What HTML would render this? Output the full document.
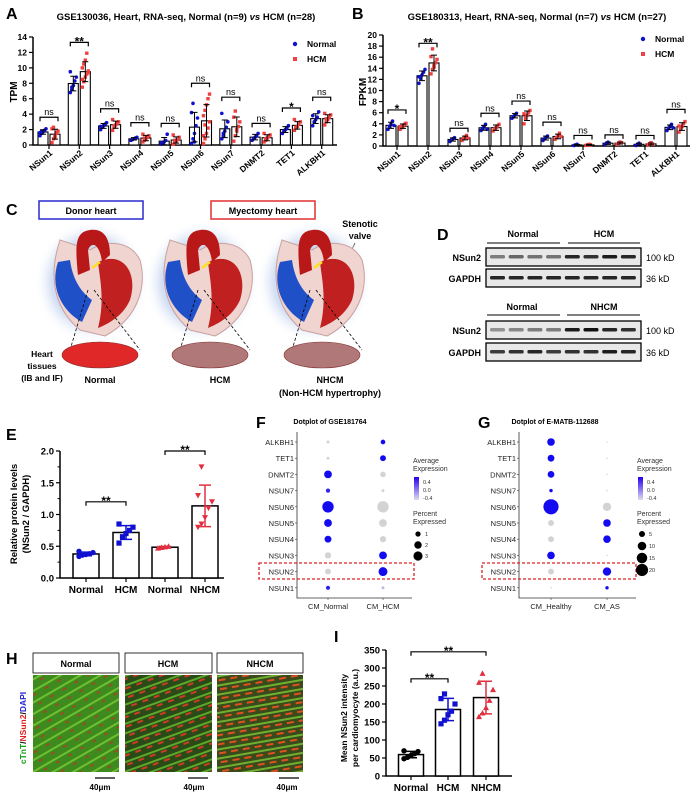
<!DOCTYPE html>
<html><head><meta charset="utf-8"><style>
html,body{margin:0;padding:0;background:#fff;}
svg{display:block;font-family:"Liberation Sans",Arial,sans-serif;}
.b{font-weight:bold;}
</style></head><body>
<svg id="fig" width="696" height="800" viewBox="0 0 696 800" xmlns="http://www.w3.org/2000/svg">
<defs>
<radialGradient id="glow" cx="50%" cy="50%" r="50%"><stop offset="0" stop-color="#a8c0e8"/><stop offset="0.7" stop-color="#d4e0f4"/><stop offset="1" stop-color="#fff" stop-opacity="0"/></radialGradient>
<linearGradient id="expgrad" x1="0" y1="0" x2="0" y2="1"><stop offset="0" stop-color="#2200ee"/><stop offset="1" stop-color="#e0dcee"/></linearGradient>
<pattern id="musN" width="14" height="10" patternUnits="userSpaceOnUse" patternTransform="rotate(-30)"><rect width="14" height="10" fill="#3f8a1e"/><rect y="4" width="14" height="2" fill="#6dc030"/><rect x="3" y="8" width="4" height="1.5" fill="#b04020"/></pattern>
<pattern id="musH" width="12" height="9" patternUnits="userSpaceOnUse" patternTransform="rotate(-20)"><rect width="12" height="9" fill="#2a4a18"/><rect y="2" width="12" height="2" fill="#5da828"/><rect x="2" y="5" width="6" height="2" fill="#d03a20"/></pattern>
<pattern id="musX" width="12" height="9" patternUnits="userSpaceOnUse" patternTransform="rotate(-10)"><rect width="12" height="9" fill="#3a4a1a"/><rect y="1" width="12" height="2" fill="#70b030"/><rect x="1" y="5" width="7" height="2" fill="#e05020"/></pattern>
</defs>

<text x="6" y="19" font-size="16" class="b">A</text>
<text x="352" y="19" font-size="16" class="b">B</text>
<text x="6" y="215" font-size="16" class="b">C</text>
<text x="437" y="240" font-size="16" class="b">D</text>
<text x="6" y="440" font-size="16" class="b">E</text>
<text x="256" y="428" font-size="16" class="b">F</text>
<text x="478" y="428" font-size="16" class="b">G</text>
<text x="6" y="664" font-size="16" class="b">H</text>
<text x="334" y="642" font-size="16" class="b">I</text>

<text x="186" y="20" font-size="9.5" class="b" text-anchor="middle">GSE130036, Heart, RNA-seq, Normal (n=9) <tspan font-style="italic">vs</tspan> HCM (n=28)</text>
<text x="537" y="20" font-size="9.5" class="b" text-anchor="middle">GSE180313, Heart, RNA-seq, Normal (n=7) <tspan font-style="italic">vs</tspan> HCM (n=27)</text>
<text transform="translate(17,92) rotate(-90)" font-size="10" class="b" text-anchor="middle">TPM</text>
<text transform="translate(366,92) rotate(-90)" font-size="10" class="b" text-anchor="middle">FPKM</text>

<g id="chartA"></g>
<g id="chartB"></g>

<g>
<circle cx="295" cy="44" r="2.2" fill="#1010d0"/><text x="307" y="47" font-size="8.5" class="b">Normal</text>
<rect x="293" y="57" width="4" height="4" fill="#f04040"/><text x="307" y="62" font-size="8.5" class="b">HCM</text>
</g>
<g>
<circle cx="643" cy="39" r="2.2" fill="#1010d0"/><text x="655" y="42" font-size="8.5" class="b">Normal</text>
<rect x="641" y="52" width="4" height="4" fill="#f04040"/><text x="655" y="57" font-size="8.5" class="b">HCM</text>
</g>

<g>
<rect x="39" y="201" width="104" height="18" fill="#fff" stroke="#2a2ad0" stroke-width="1.5"/>
<text x="91" y="214" font-size="9" class="b" text-anchor="middle">Donor heart</text>
<rect x="211" y="201" width="104" height="18" fill="#fff" stroke="#e03030" stroke-width="1.5"/>
<text x="263" y="214" font-size="9" class="b" text-anchor="middle">Myectomy heart</text>
<text x="360" y="227" font-size="9" class="b" text-anchor="middle">Stenotic</text>
<text x="360" y="239" font-size="9" class="b" text-anchor="middle">valve</text>
<line x1="355" y1="243" x2="330" y2="295" stroke="#000" stroke-width="0.8"/>
<g id="hearts"></g>
<text x="42" y="357" font-size="8.5" class="b" text-anchor="middle">Heart</text>
<text x="42" y="369" font-size="8.5" class="b" text-anchor="middle">tissues</text>
<text x="42" y="381" font-size="8.5" class="b" text-anchor="middle">(IB and IF)</text>
<text x="100" y="383" font-size="9" class="b" text-anchor="middle">Normal</text>
<text x="220" y="383" font-size="9" class="b" text-anchor="middle">HCM</text>
<text x="330" y="383" font-size="9" class="b" text-anchor="middle">NHCM</text>
<text x="330" y="396" font-size="9" class="b" text-anchor="middle">(Non-HCM hypertrophy)</text>
</g>

<g>
<text x="523" y="237" font-size="9" class="b" text-anchor="middle">Normal</text>
<text x="604" y="237" font-size="9" class="b" text-anchor="middle">HCM</text>
<line x1="487" y1="243" x2="560" y2="243" stroke="#000" stroke-width="1"/>
<line x1="568" y1="243" x2="640" y2="243" stroke="#000" stroke-width="1"/>
<g id="blots"></g>
<text x="522" y="310" font-size="9" class="b" text-anchor="middle">Normal</text>
<text x="604" y="310" font-size="9" class="b" text-anchor="middle">NHCM</text>
<line x1="487" y1="315" x2="560" y2="315" stroke="#000" stroke-width="1"/>
<line x1="567" y1="315" x2="640" y2="315" stroke="#000" stroke-width="1"/>
</g>

<text transform="translate(17,514) rotate(-90)" font-size="9.5" class="b" text-anchor="middle">Relative protein levels</text>
<text transform="translate(29,514) rotate(-90)" font-size="9.5" class="b" text-anchor="middle">(NSun2 / GAPDH)</text>
<g id="chartE"></g>

<text x="330" y="424" font-size="7" class="b" text-anchor="middle">Dotplot of GSE181764</text>
<text x="555" y="424" font-size="7" class="b" text-anchor="middle">Dotplot of E-MATB-112688</text>
<g id="chartF"></g>
<g id="chartG"></g>

<g>
<text transform="translate(26,728) rotate(-90)" font-size="8.5" class="b" text-anchor="middle"><tspan fill="#10a010">cTnT</tspan>/<tspan fill="#e02020">NSun2</tspan>/<tspan fill="#2020d0">DAPI</tspan></text>
<rect x="33" y="653" width="86" height="20" fill="#fff" stroke="#000" stroke-width="0.8"/><text x="76" y="667" font-size="9" class="b" text-anchor="middle">Normal</text>
<rect x="125" y="653" width="87" height="20" fill="#fff" stroke="#000" stroke-width="0.8"/><text x="168" y="667" font-size="9" class="b" text-anchor="middle">HCM</text>
<rect x="217" y="653" width="86" height="20" fill="#fff" stroke="#000" stroke-width="0.8"/><text x="260" y="667" font-size="9" class="b" text-anchor="middle">NHCM</text>
<rect x="33" y="675" width="86" height="97" fill="url(#musN)"/>
<rect x="125" y="675" width="87" height="97" fill="url(#musH)"/>
<rect x="217" y="675" width="86" height="97" fill="url(#musX)"/>
<line x1="95" y1="778" x2="115" y2="778" stroke="#000" stroke-width="1.2"/><text x="100" y="790" font-size="8" class="b" text-anchor="middle">40μm</text>
<line x1="188" y1="778" x2="208" y2="778" stroke="#000" stroke-width="1.2"/><text x="194" y="790" font-size="8" class="b" text-anchor="middle">40μm</text>
<line x1="279" y1="778" x2="299" y2="778" stroke="#000" stroke-width="1.2"/><text x="287" y="790" font-size="8" class="b" text-anchor="middle">40μm</text>
</g>

<text transform="translate(347,718) rotate(-90)" font-size="8.5" class="b" text-anchor="middle">Mean NSun2 intensity</text>
<text transform="translate(358,718) rotate(-90)" font-size="8.5" class="b" text-anchor="middle">per cardiomyocyte (a.u.)</text>
<g id="chartI"></g>
</svg>

<script>
const NS="http://www.w3.org/2000/svg";
function mk(tag,attrs,parent){const e=document.createElementNS(NS,tag);for(const k in attrs)e.setAttribute(k,attrs[k]);parent.appendChild(e);return e;}

const genesA=["NSun1","NSun2","NSun3","NSun4","NSun5","NSun6","NSun7","DNMT2","TET1","ALKBH1"];
const aNormal=[[1.2,1.5,1.7,1.9,2.1,1.6,1.8],[6.8,7.2,7.7,8.3,8.8,9.5,7.5],[2.0,2.3,2.5,2.7,2.9,2.4],[0.6,0.7,0.8,0.9,1.0],[0.1,0.3,0.4,0.6,1.4,0.2],[0.2,0.8,1.5,2.5,3.5,4.2,5.4,0.4],[0.8,1.2,1.8,2.3,3.0,4.1,1.5],[0.6,0.8,1.0,1.2,1.5],[1.5,1.8,2.0,2.2,2.5],[2.5,3.0,3.3,3.6,4.3,3.8]];
const aHCM=[[0.3,0.8,1.2,1.5,1.8,2.1,2.3,1.0,1.6],[7.5,8.2,8.8,9.2,9.6,10.0,10.5,11.0,11.9,9.4,8.5],[1.9,2.3,2.6,2.8,3.0,3.3,2.5],[0.4,0.6,0.8,1.0,1.2,1.4,0.9],[0.1,0.3,0.5,0.7,1.0,1.3,0.6],[0.2,0.8,1.5,2.2,3.0,3.8,4.5,5.2,6.0,6.6,1.2,2.6],[0.5,1.2,1.8,2.4,3.0,3.6,4.4,2.0],[0.4,0.6,0.9,1.1,1.3,1.5,0.8],[1.9,2.2,2.4,2.7,3.0,3.3,2.3],[2.6,3.0,3.3,3.6,3.9,4.1,3.4]];
const aSig=["ns","**","ns","ns","ns","ns","ns","ns","*","ns"];
const aBracket=[3.6,13.3,4.7,2.9,2.8,8.0,6.2,2.8,4.8,6.2];
const aTicks=[0,2,4,6,8,10,12,14];
const genesB=["NSun1","NSun2","NSun3","NSun4","NSun5","NSun6","NSun7","DNMT2","TET1","ALKBH1"];
const bNormal=[[3.0,3.5,3.9,4.5,3.7],[11.3,12.2,12.8,13.3,13.8,12.5],[0.8,1.1,1.3,1.5],[2.8,3.2,3.5,3.9,3.0],[5.0,5.3,5.6,5.9],[1.0,1.3,1.6,1.8],[0.1,0.2,0.3],[0.3,0.5,0.7],[0.1,0.3,0.5],[2.8,3.2,3.6,3.9,3.3]];
const bHCM=[[3.0,3.3,3.6,3.9,4.1,3.5],[13.0,13.8,14.5,15.0,15.6,16.1,17.5,14.2],[1.0,1.3,1.6,1.9,1.4],[2.7,3.0,3.3,3.6,3.9],[4.0,5.0,5.5,6.0,6.4,5.8],[1.2,1.5,1.9,2.3,1.7],[0.1,0.2,0.3,0.2],[0.3,0.5,0.7,0.6],[0.2,0.4,0.6,0.3],[2.5,3.0,3.5,4.0,4.4,3.6]];
const bSig=["*","**","ns","ns","ns","ns","ns","ns","ns","ns"];
const bBracket=[6.5,18.5,3.2,5.9,8.1,4.3,1.9,2.0,1.9,6.6];
const bTicks=[0,2,4,6,8,10,12,14,16,18,20];
const eCats=["Normal","HCM","Normal","NHCM"];
const ePoints=[[0.34,0.36,0.37,0.38,0.40,0.42],[0.55,0.65,0.70,0.75,0.80,0.85],[0.47,0.48,0.49,0.50],[0.80,0.85,0.95,1.10,1.20,1.30,1.75]];
const eTicks=[0,0.5,1.0,1.5,2.0];
const iCats=["Normal","HCM","NHCM"];
const iPoints=[[48,52,57,62,68,70],[145,155,170,180,200,215,228],[165,175,190,210,240,260,285]];
const iTicks=[0,50,100,150,200,250,300,350];
const dotGenes=["ALKBH1","TET1","DNMT2","NSUN7","NSUN6","NSUN5","NSUN4","NSUN3","NSUN2","NSUN1"];
const fGroups=["CM_Normal","CM_HCM"];
const fPct1=[0.2,0.2,1.4,0.4,3.0,1.4,1.1,0.9,0.8,0.4];
const fExp1=[-0.4,-0.4,0.4,0.3,0.5,0.4,0.4,-0.4,-0.4,0.3];
const fPct2=[0.5,0.8,0.7,0.2,3.0,1.4,0.9,1.4,1.8,0.2];
const fExp2=[0.4,0.4,-0.4,-0.4,-0.4,-0.4,-0.4,0.4,0.5,-0.3];
const gGroups=["CM_Healthy","CM_AS"];
const gPct1=[5,4,4,1,20,3,3,5,3,0.2];
const gExp1=[0.4,0.4,0.4,0.4,0.5,-0.4,-0.4,0.4,-0.4,-0.4];
const gPct2=[0.2,0.2,0.2,0.2,6,5,5,0.2,6,1];
const gExp2=[-0.4,-0.4,-0.4,-0.4,-0.4,0.4,0.4,-0.4,0.5,0.4];

function mean(a){return a.reduce((s,v)=>s+v,0)/a.length;}
function sd(a){const m=mean(a);return Math.sqrt(a.reduce((s,v)=>s+(v-m)*(v-m),0)/(a.length-1));}

function bracket(g,x1,x2,y,label){
  const p=mk("path",{d:`M${x1},${y+4}V${y}H${x2}V${y+4}`,fill:"none",stroke:"#000","stroke-width":1.2},g);
  
  
  const t=mk("text",{x:(x1+x2)/2,y:label==="ns"?y-2:y+3,"font-size":label==="ns"?9:12,"text-anchor":"middle","font-weight":label==="ns"?"normal":"bold"},g);
  t.textContent=label;
  
  
}

function grouped(g,genes,norm,hcm,sig,br,ticks,o){
  const ymax=ticks[ticks.length-1];
  const Y=v=>o.y0-v*(o.y0-o.yTop)/ymax;
  const X=i=>o.cx0+i*o.dx;
  const ax=mk("path",{d:`M${o.ax},${o.yTop}V${o.y0}H${o.axEnd}`,fill:"none",stroke:"#000","stroke-width":1.5},g);
  
  
  ticks.forEach(t=>{
    mk("line",{x1:o.ax-4,x2:o.ax,y1:Y(t),y2:Y(t),stroke:"#000","stroke-width":1.2},g);
    const tl=mk("text",{x:o.ax-6,y:Y(t)+3,"font-size":8.5,"text-anchor":"end","font-weight":"bold"},g);
    tl.textContent=t;
    
    
  });
  genes.forEach((name,i)=>{
    const cx=X(i);
    mk("line",{x1:cx,x2:cx,y1:o.y0,y2:o.y0+4,stroke:"#000","stroke-width":1.2},g);
    [[norm[i],-6,"#1010d0","normal"],[hcm[i],6,"#f04040","hcm"]].forEach(([pts,off,col,key])=>{
      const m=mean(pts),s=sd(pts),bx=cx+off;
      const bar=mk("rect",{x:bx-5,y:Y(m),width:10,height:o.y0-Y(m),fill:"#fff",stroke:"#000","stroke-width":1.1},g);
      
      
      pts.forEach((v,k)=>{
        const jx=bx+((k%5)-2)*1.5;
        if(key==="normal"){const c=mk("circle",{cx:jx,cy:Y(v),r:1.8,fill:col},g);}
        else{const c=mk("rect",{x:jx-1.7,y:Y(v)-1.7,width:3.4,height:3.4,fill:col},g);}
      });
      mk("path",{d:`M${bx},${Y(Math.max(0,m-s))}V${Y(m+s)}M${bx-3},${Y(m+s)}H${bx+3}M${bx-3},${Y(Math.max(0,m-s))}H${bx+3}`,stroke:"#000","stroke-width":1,fill:"none"},g);
    });
    bracket(g,cx-9,cx+9,Y(br[i]),sig[i]);
    const xl=mk("text",{transform:`translate(${cx+4},${o.y0+9}) rotate(-40)`,"font-size":8.5,"text-anchor":"end","font-weight":"bold"},g);
    xl.textContent=name;
    
    
  });
}
grouped(document.getElementById("chartA"),genesA,aNormal,aHCM,aSig,aBracket,aTicks,{y0:145,yTop:37,ax:33,axEnd:337,cx0:49,dx:30.3});
grouped(document.getElementById("chartB"),genesB,bNormal,bHCM,bSig,bBracket,bTicks,{y0:146,yTop:35,ax:383,axEnd:690,cx0:397,dx:31});

function simple(g,cats,pts,ticks,o,colors,shapes,brs,fmt){
  const ymax=ticks[ticks.length-1];
  const Y=v=>o.y0-v*(o.y0-o.yTop)/ymax;
  const ax=mk("path",{d:`M${o.ax},${o.yTop}V${o.y0}H${o.axEnd}`,fill:"none",stroke:"#000","stroke-width":1.5},g);
  
  
  ticks.forEach(t=>{
    mk("line",{x1:o.ax-4,x2:o.ax,y1:Y(t),y2:Y(t),stroke:"#000","stroke-width":1.2},g);
    const tl=mk("text",{x:o.ax-6,y:Y(t)+3.5,"font-size":9.5,"text-anchor":"end","font-weight":"bold"},g);
    tl.textContent=fmt(t);
    
    
  });
  if(o.minor){ticks.slice(0,-1).forEach((t,k)=>{const v=(t+ticks[k+1])/2;mk("line",{x1:o.ax-2.5,x2:o.ax,y1:Y(v),y2:Y(v),stroke:"#000","stroke-width":1},g);});}
  cats.forEach((c,i)=>{
    const cx=o.cx[i],p=pts[i],m=mean(p),s=sd(p);
    const bar=mk("rect",{x:cx-o.w/2,y:Y(m),width:o.w,height:o.y0-Y(m),fill:"#fff",stroke:"#000","stroke-width":1.5},g);
    
    
    p.forEach((v,k)=>{
      const jx=cx+((k%5)-2)*3.5,col=colors[i];
      let e;
      if(shapes[i]==="c")e=mk("circle",{cx:jx,cy:Y(v),r:2.7,fill:col},g);
      else if(shapes[i]==="s")e=mk("rect",{x:jx-2.6,y:Y(v)-2.6,width:5.2,height:5.2,fill:col},g);
      else if(shapes[i]==="t")e=mk("path",{d:`M${jx},${Y(v)-3}L${jx+3},${Y(v)+2.5}L${jx-3},${Y(v)+2.5}Z`,fill:col},g);
      else e=mk("path",{d:`M${jx-3},${Y(v)-2.5}L${jx+3},${Y(v)-2.5}L${jx},${Y(v)+3}Z`,fill:col},g);
      
      
    });
    mk("path",{d:`M${cx},${Y(m-s)}V${Y(m+s)}M${cx-6},${Y(m+s)}H${cx+6}M${cx-6},${Y(m-s)}H${cx+6}`,stroke:colors[i],"stroke-width":1.5,fill:"none"},g);
    mk("line",{x1:cx,x2:cx,y1:o.y0,y2:o.y0+4,stroke:"#000","stroke-width":1.2},g);
    const xl=mk("text",{x:cx,y:o.y0+15,"font-size":10,"text-anchor":"middle","font-weight":"bold"},g);
    xl.textContent=c;
    
    
  });
  brs.forEach(b=>bracket(g,o.cx[b[0]],o.cx[b[1]],Y(b[2]),b[3]));
}
const eBrackets=[[0,1,1.2,"**"],[2,3,2.0,"**"]];
simple(document.getElementById("chartE"),eCats,ePoints,eTicks,{y0:578,yTop:451,ax:60,axEnd:224,cx:[86,126,165,205],w:26,minor:true},["#1010d0","#1010d0","#e03040","#e03040"],["c","s","t","v"],eBrackets,t=>t.toFixed(1));
const iBrackets=[[0,1,270,"**"],[0,2,345,"**"]];
simple(document.getElementById("chartI"),iCats,iPoints,iTicks,{y0:776,yTop:650,ax:386,axEnd:512,cx:[411,448,486],w:25,minor:false},["#000","#1010d0","#e03040"],["c","s","t"],iBrackets,t=>String(t));

function col(e){const t=Math.max(0,Math.min(1,(e+0.4)/0.8));const r=Math.round(211*(1-t)+20*t),gg=Math.round(211*(1-t)+10*t),b=Math.round(211*(1-t)+240*t);return `rgb(${r},${gg},${b})`;}
function dotplot(g,groups,pct1,exp1,pct2,exp2,o){
  const Y=i=>442+i*16.2;
  const ax=mk("path",{d:`M${o.ax},${432}V${598}H${o.axEnd}`,fill:"none",stroke:"#333","stroke-width":0.8},g);
  
  
  dotGenes.forEach((gn,i)=>{
    const t=mk("text",{x:o.ax-3,y:Y(i)+3,"font-size":7.5,"text-anchor":"end",fill:"#222"},g);
    t.textContent=gn;
    
    
    mk("line",{x1:o.ax-2,x2:o.ax,y1:Y(i),y2:Y(i),stroke:"#333","stroke-width":0.6},g);
    [[pct1,exp1,0],[pct2,exp2,1]].forEach(([p,e,k])=>{
      const c=mk("circle",{cx:o.cx[k],cy:Y(i),r:o.rs(p[i]),fill:col(e[i])},g);
      
      
    });
  });
  groups.forEach((gr,k)=>{
    mk("line",{x1:o.cx[k],x2:o.cx[k],y1:598,y2:600,stroke:"#333","stroke-width":0.6},g);
    const t=mk("text",{x:o.cx[k],y:609,"font-size":7.5,"text-anchor":"middle",fill:"#222"},g);
    t.textContent=gr;
    
    
  });
  const box=mk("rect",{x:o.box[0],y:563,width:o.box[1]-o.box[0],height:16,fill:"none",stroke:"#e02020","stroke-width":1.3,"stroke-dasharray":"3,2"},g);
  
  
  const lx=o.lx;
  [["Average",463],["Expression",471]].forEach(([s,y])=>{const t=mk("text",{x:lx,y:y,"font-size":7,fill:"#333"},g);t.textContent=s;});
  const gb=mk("rect",{x:lx+1,y:477,width:5,height:23,fill:"url(#expgrad)"},g);
  
  
  [["0.4",484],["0.0",492],["-0.4",500]].forEach(([s,y])=>{const t=mk("text",{x:lx+10,y:y,"font-size":5.5,fill:"#333"},g);t.textContent=s;});
  [["Percent",516],["Expressed",524]].forEach(([s,y])=>{const t=mk("text",{x:lx,y:y,"font-size":7,fill:"#333"},g);t.textContent=s;});
  o.legVals.forEach((v,k)=>{
    const yy=534+k*o.legStep;
    const c=mk("circle",{cx:lx+5,cy:yy,r:o.rs(v)*0.8,fill:"#000"},g);
    
    
    const t=mk("text",{x:lx+12,y:yy+2,"font-size":5.5,fill:"#333"},g);t.textContent=v;
  });
}
const fLegend=[1,2,3];
const gLegend=[5,10,15,20];
dotplot(document.getElementById("chartF"),fGroups,fPct1,fExp1,fPct2,fExp2,{ax:297,axEnd:412,cx:[328,383],box:[259,414],lx:413,rs:p=>Math.max(0.6,Math.sqrt(p)*3.3),legVals:fLegend,legStep:11});
dotplot(document.getElementById("chartG"),gGroups,gPct1,gExp1,gPct2,gExp2,{ax:519,axEnd:636,cx:[551,607],box:[482,636],lx:637,rs:p=>Math.max(0.6,Math.sqrt(p)*1.7),legVals:gLegend,legStep:12});

const hg=document.getElementById("hearts");
const heartX=[100,210,322];
const tissueCol=["#e02828","#b07878","#b07878"];
heartX.forEach((cx,i)=>{
  const g=mk("g",{},hg);
  
  
  mk("ellipse",{cx:cx-8,cy:282,rx:58,ry:62,fill:"url(#glow)"},g);
  mk("path",{d:`M${cx-40},${240}C${cx-50},${270} ${cx-50},${305} ${cx-20},${330}L${cx+5},${336}C${cx+35},${320} ${cx+48},${290} ${cx+40},${260}C${cx+30},${240} ${cx+5},${240} ${cx-10},${250}Z`,fill:"#f0d4d0",stroke:"#c8a0a0","stroke-width":1},g);
  mk("path",{d:`M${cx-42},${262}C${cx-50},${285} ${cx-40},${310} ${cx-18},${322}L${cx-8},${300}C${cx-22},${290} ${cx-28},${275} ${cx-30},${260}Z`,fill:"#2050c8"},g);
  mk("path",{d:`M${cx-2},${262}C${cx+25},${250} ${cx+38},${275} ${cx+30},${300}C${cx+22},${318} ${cx+5},${325} ${cx-2},${328}C${cx+5},${300} ${cx},${280} ${cx-2},${262}Z`,fill:"#c02020"},g);
  mk("path",{d:`M${cx-22},${275}C${cx-25},${245} ${cx-25},${232} ${cx-10},${230}C${cx+5},${228} ${cx+10},${240} ${cx+10},${255}L${cx+2},${262}C${cx},${245} ${cx-8},${240} ${cx-12},${250}L${cx-10},${270}Z`,fill:"#b81818"},g);
  mk("path",{d:`M${cx-8},${268}L${cx},${262}`,stroke:"#ffe020","stroke-width":2.5},g);
  mk("line",{x1:cx-12,y1:290,x2:cx-30,y2:350,stroke:"#000","stroke-width":0.8,"stroke-dasharray":"3,2"},g);
  mk("line",{x1:cx-6,y1:290,x2:cx+40,y2:350,stroke:"#000","stroke-width":0.8,"stroke-dasharray":"3,2"},g);
  const t=mk("ellipse",{cx:cx,cy:355,rx:38,ry:13,fill:tissueCol[i],stroke:"#803030","stroke-width":0.6},g);
  
  
});

const bg=document.getElementById("blots");
const blotRows=[["NSun2",248,"100 kD",[0.5,0.6,0.55,0.55,0.9,0.85,0.95,0.9]],["GAPDH",269,"36 kD",[0.9,0.9,0.9,0.9,0.9,0.9,0.9,0.9]],["NSun2",321,"100 kD",[0.4,0.45,0.5,0.5,0.95,1,0.9,0.85]],["GAPDH",343,"36 kD",[0.8,0.85,0.9,0.8,0.85,0.85,0.95,0.9]]];
blotRows.forEach(([lab,y,kd,ints])=>{
  const g=mk("g",{},bg);
  
  
  mk("rect",{x:486,y:y,width:155,height:18,fill:"#e8e8e8",stroke:"#000","stroke-width":1.3},g);
  ints.forEach((v,k)=>{mk("rect",{x:490+k*18.7,y:y+7,width:15,height:3.5,rx:1.5,fill:"#111","fill-opacity":v},g);});
  const t1=mk("text",{x:481,y:y+13,"font-size":9,"font-weight":"bold","text-anchor":"end"},g);t1.textContent=lab;
  const t2=mk("text",{x:646,y:y+13,"font-size":9},g);t2.textContent=kd;
});
</script>
</body></html>
